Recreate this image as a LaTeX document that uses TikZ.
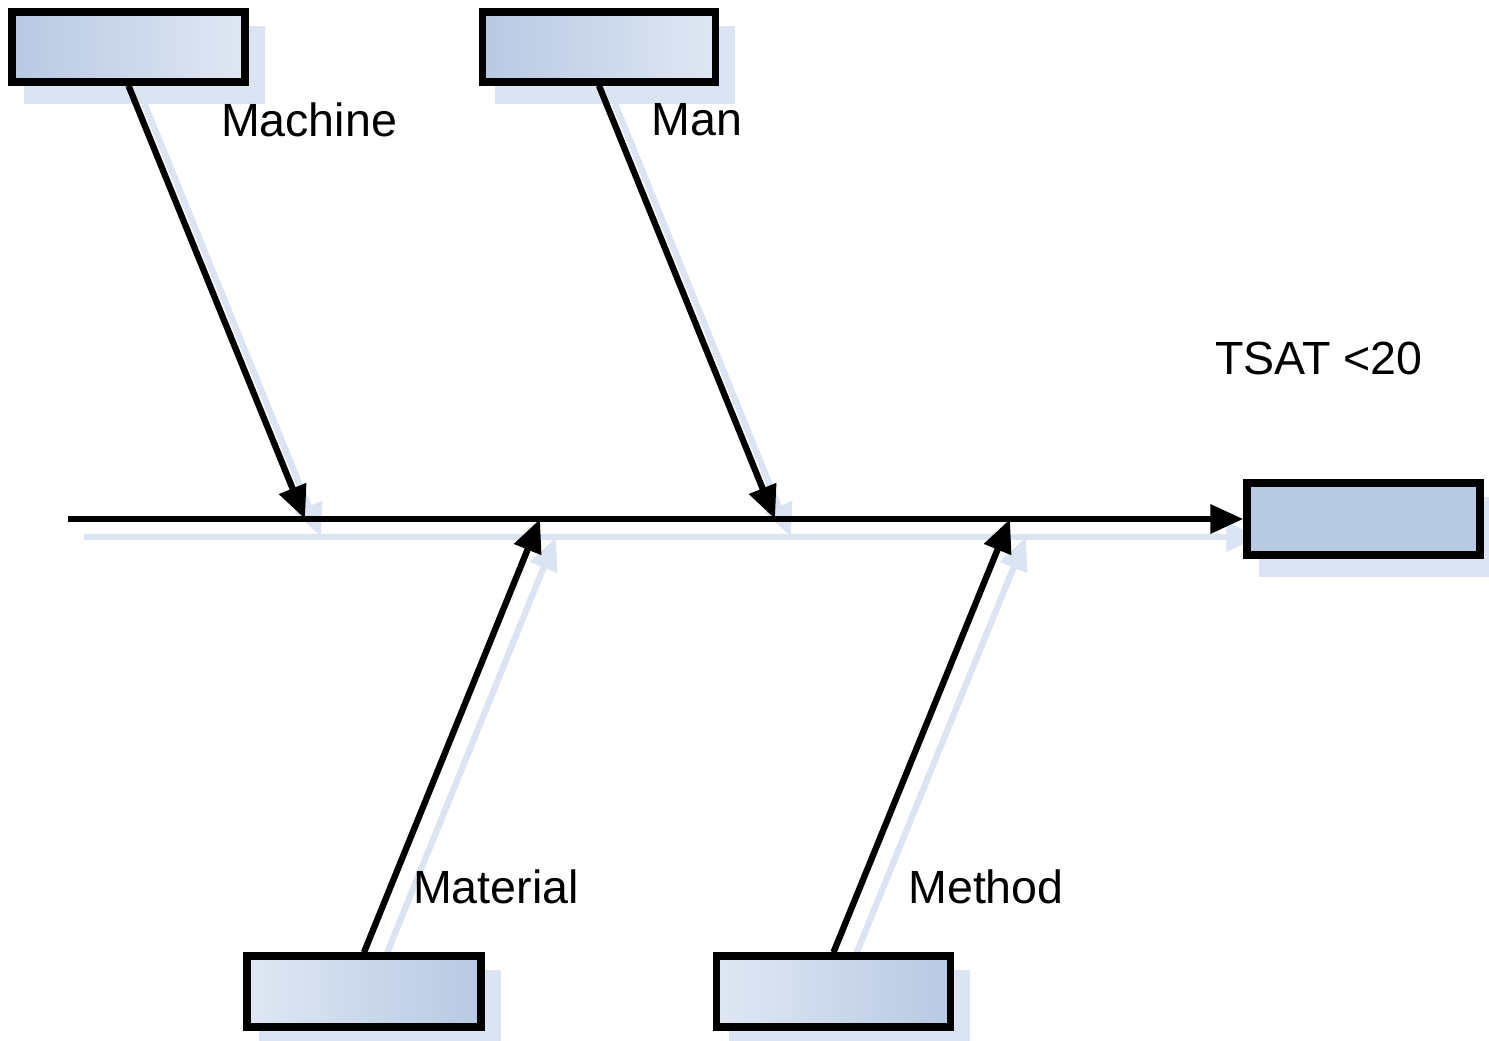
\documentclass[tikz,border=0pt]{standalone}
\usepackage{fontspec}
\setmainfont{Liberation Sans}
\usetikzlibrary{arrows.meta}
\definecolor{boxdark}{HTML}{B8C9E3}
\definecolor{boxlight}{HTML}{DFE7F3}
\definecolor{shadowblue}{HTML}{DAE4F2}
\tikzset{
  px/.style={x=0.02cm,y=-0.02cm},
  causebox/.style={draw=black,line width=4.2pt,rectangle,inner sep=0pt,
    minimum width=4.66cm,minimum height=1.4cm},
  topbox/.style={causebox,left color=boxdark,right color=boxlight},
  bottombox/.style={causebox,left color=boxlight,right color=boxdark,
    minimum width=4.68cm,minimum height=1.42cm},
  effectbox/.style={causebox,fill=boxdark,minimum height=1.44cm},
  bone/.style={line width=3.6pt,-{Triangle[length=0.66cm,width=0.56cm]}},
  shadowbone/.style={bone,draw=shadowblue,fill=shadowblue},
  label/.style={font=\fontsize{26.5}{30}\selectfont,inner sep=0pt}
}
\begin{document}
\begin{tikzpicture}[px]
\useasboundingbox (0,0) rectangle (1489,1041);
% cause and effect boxes
\node[topbox] (machine) at (128.5,47) {};
\node[topbox] (man) at (599,47) {};
\node[bottombox] (material) at (364,991.5) {};
\node[bottombox] (method) at (833.5,991.5) {};
\node[effectbox] (effect) at (1363.5,519) {};
% points where the bones meet the spine
\coordinate (tail) at (68,519);
\coordinate (jmachine) at (305,519);
\coordinate (jman) at (775,519);
\coordinate (jmaterial) at (540,519);
\coordinate (jmethod) at (1010,519);
% drop shadows
\begin{scope}[transform canvas={shift={(0.32cm,-0.36cm)}}]
  \foreach \b in {machine,man,material,method,effect}
    \fill[shadowblue] (\b.north west) rectangle (\b.south east);
  \draw[shadowbone] (tail) -- (effect.west);
  \draw[shadowbone] (machine.south) -- (jmachine);
  \draw[shadowbone] (man.south) -- (jman);
  \draw[shadowbone] (material.north) -- (jmaterial);
  \draw[shadowbone] (method.north) -- (jmethod);
\end{scope}
% boxes redrawn above the shadows
\node[topbox] at (machine) {};
\node[topbox] at (man) {};
\node[bottombox] at (material) {};
\node[bottombox] at (method) {};
\node[effectbox] at (effect) {};
% spine and bones
\draw[bone] (tail) -- (effect.west);
\draw[bone] (machine.south) -- (jmachine);
\draw[bone] (man.south) -- (jman);
\draw[bone] (material.north) -- (jmaterial);
\draw[bone] (method.north) -- (jmethod);
% labels
\node[label] (lmachine) at (309,120) {Machine};
\node[label] (lman) at (697,120) {Man};
\node[label] (leffect) at (1319,358) {TSAT <20};
\node[label] (lmaterial) at (496,887) {Material};
\node[label] (lmethod) at (986,887) {Method};
\end{tikzpicture}
\end{document}
